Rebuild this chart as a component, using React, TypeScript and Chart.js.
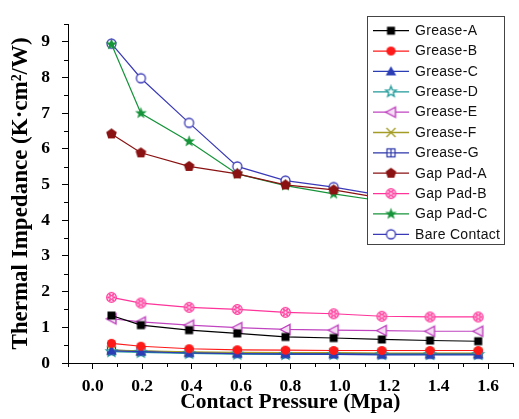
import React, { useEffect, useRef } from 'react';
import { Chart, registerables } from 'chart.js';

Chart.register(...registerables);

// ---- data ----
const X_VALUES = [0.076, 0.195, 0.39, 0.585, 0.78, 0.975, 1.17, 1.365, 1.56];
const X_TICKS = [0.0, 0.2, 0.4, 0.6, 0.8, 1.0, 1.2, 1.4, 1.6];
const Y_TICKS = [0, 1, 2, 3, 4, 5, 6, 7, 8, 9];
const X_MINOR = [-0.1, 0.1, 0.3, 0.5, 0.7, 0.9, 1.1, 1.3, 1.5, 1.7];
const Y_MINOR = [0.5, 1.5, 2.5, 3.5, 4.5, 5.5, 6.5, 7.5, 8.5, 9.5];

const SERIES_NAMES = [
  'Grease-A', 'Grease-B', 'Grease-C', 'Grease-D', 'Grease-E', 'Grease-F',
  'Grease-G', 'Gap Pad-A', 'Gap Pad-B', 'Gap Pad-C', 'Bare Contact',
];

const GREASE_A = [1.33, 1.06, 0.92, 0.83, 0.73, 0.70, 0.66, 0.63, 0.61];
const GREASE_B = [0.55, 0.47, 0.40, 0.37, 0.36, 0.35, 0.35, 0.35, 0.35];
const GREASE_C = [0.34, 0.32, 0.28, 0.26, 0.25, 0.24, 0.23, 0.23, 0.23];
const GREASE_D = [0.32, 0.30, 0.27, 0.25, 0.24, 0.24, 0.24, 0.24, 0.24];
const GREASE_E = [1.24, 1.15, 1.06, 0.99, 0.94, 0.92, 0.91, 0.89, 0.89];
const GREASE_F = [0.36, 0.34, 0.31, 0.30, 0.29, 0.29, 0.28, 0.28, 0.28];
const GREASE_G = [0.36, 0.33, 0.30, 0.28, 0.27, 0.27, 0.26, 0.26, 0.26];
const GAP_PAD_A = [6.42, 5.89, 5.51, 5.30, 4.99, 4.85, 4.62, 4.50, 4.45];
const GAP_PAD_B = [1.84, 1.68, 1.56, 1.50, 1.42, 1.38, 1.31, 1.29, 1.29];
const GAP_PAD_C = [8.93, 7.00, 6.21, 5.30, 4.97, 4.74, 4.54, 4.45, 4.40];
const BARE_CONTACT = [8.95, 7.98, 6.73, 5.51, 5.11, 4.93, 4.70, 4.60, 4.55];

const SERIES_VALUES = [
  GREASE_A, GREASE_B, GREASE_C, GREASE_D, GREASE_E, GREASE_F,
  GREASE_G, GAP_PAD_A, GAP_PAD_B, GAP_PAD_C, BARE_CONTACT,
];

const COLORS = [
  '#000000', '#ff1a1a', '#2a3db5', '#1f9a9a', '#c044c0', '#a49c24',
  '#2a35a8', '#8a1212', '#ff3399', '#16943a', '#3a3ab8',
];

// ---- marker drawing ----
type Ctx = CanvasRenderingContext2D;
function makeMarker(draw: (ctx: Ctx) => void, size = 15): HTMLCanvasElement {
  const c = document.createElement('canvas');
  c.width = size;
  c.height = size;
  const ctx = c.getContext('2d') as Ctx;
  ctx.translate(size / 2, size / 2);
  draw(ctx);
  return c;
}
function starPath(ctx: Ctx, outer: number, inner: number) {
  ctx.beginPath();
  for (let i = 0; i < 10; i++) {
    const r = i % 2 ? inner : outer;
    const a = -Math.PI / 2 + (i * Math.PI) / 5;
    ctx.lineTo(r * Math.cos(a), r * Math.sin(a));
  }
  ctx.closePath();
}
function polyPath(ctx: Ctx, r: number, n: number) {
  ctx.beginPath();
  for (let i = 0; i < n; i++) {
    const a = -Math.PI / 2 + (i * 2 * Math.PI) / n;
    ctx.lineTo(r * Math.cos(a), r * Math.sin(a));
  }
  ctx.closePath();
}

function buildMarkers(): HTMLCanvasElement[] {
  return [
    makeMarker((ctx) => { ctx.fillStyle = COLORS[0]; ctx.fillRect(-4, -4, 8, 8); }),
    makeMarker((ctx) => { ctx.fillStyle = COLORS[1]; ctx.beginPath(); ctx.arc(0, 0, 4.6, 0, Math.PI * 2); ctx.fill(); }),
    makeMarker((ctx) => {
      ctx.fillStyle = COLORS[2];
      ctx.beginPath(); ctx.moveTo(0, -5.2); ctx.lineTo(5.2, 4); ctx.lineTo(-5.2, 4); ctx.closePath(); ctx.fill();
    }),
    makeMarker((ctx) => {
      ctx.strokeStyle = COLORS[3]; ctx.lineWidth = 1.3; ctx.fillStyle = '#ffffff';
      starPath(ctx, 5.6, 2.4); ctx.fill(); ctx.stroke();
    }),
    makeMarker((ctx) => {
      ctx.strokeStyle = COLORS[4]; ctx.lineWidth = 1.4; ctx.fillStyle = '#f4dff4';
      ctx.beginPath(); ctx.moveTo(-5.2, 0); ctx.lineTo(4.5, -5.2); ctx.lineTo(4.5, 5.2); ctx.closePath(); ctx.fill(); ctx.stroke();
    }),
    makeMarker((ctx) => {
      ctx.strokeStyle = COLORS[5]; ctx.lineWidth = 1.4;
      ctx.beginPath(); ctx.moveTo(-4.5, -4.5); ctx.lineTo(4.5, 4.5); ctx.moveTo(-4.5, 4.5); ctx.lineTo(4.5, -4.5); ctx.stroke();
    }),
    makeMarker((ctx) => {
      ctx.strokeStyle = COLORS[6]; ctx.lineWidth = 1.2; ctx.fillStyle = '#ffffff';
      ctx.fillRect(-4, -4, 8, 8); ctx.strokeRect(-4, -4, 8, 8);
      ctx.beginPath(); ctx.moveTo(-4, 0); ctx.lineTo(4, 0); ctx.moveTo(0, -4); ctx.lineTo(0, 4); ctx.stroke();
    }),
    makeMarker((ctx) => { ctx.fillStyle = COLORS[7]; polyPath(ctx, 5.6, 5); ctx.fill(); }),
    makeMarker((ctx) => {
      ctx.strokeStyle = COLORS[8]; ctx.lineWidth = 1.2; ctx.fillStyle = '#ffe0f0';
      ctx.beginPath(); ctx.arc(0, 0, 4.8, 0, Math.PI * 2); ctx.fill(); ctx.stroke();
      ctx.beginPath(); ctx.arc(0, 0, 1.8, 0, Math.PI * 2); ctx.stroke();
      for (let i = 0; i < 6; i++) {
        const a = (i * Math.PI) / 3;
        ctx.beginPath(); ctx.arc(3.2 * Math.cos(a), 3.2 * Math.sin(a), 0.9, 0, Math.PI * 2); ctx.fillStyle = COLORS[8]; ctx.fill();
      }
    }),
    makeMarker((ctx) => { ctx.fillStyle = COLORS[9]; starPath(ctx, 6.2, 2.6); ctx.fill(); }),
    makeMarker((ctx) => {
      ctx.strokeStyle = COLORS[10]; ctx.lineWidth = 1.3; ctx.fillStyle = '#ffffff';
      ctx.beginPath(); ctx.arc(0, 0, 4.5, 0, Math.PI * 2); ctx.fill(); ctx.stroke();
    }),
  ];
}

// ---- plugins ----
const minorTicksPlugin = {
  id: 'minorTicks',
  beforeDatasetsDraw(chart: any) {
    const { ctx, scales } = chart;
    const xs = scales.x;
    const ys = scales.y;
    ctx.save();
    ctx.strokeStyle = '#000';
    ctx.lineWidth = 1;
    ctx.beginPath();
    X_MINOR.forEach((v) => {
      const px = Math.round(xs.getPixelForValue(v)) + 0.5;
      ctx.moveTo(px, ys.bottom);
      ctx.lineTo(px, ys.bottom + 4);
    });
    Y_MINOR.forEach((v) => {
      const py = Math.round(ys.getPixelForValue(v)) + 0.5;
      ctx.moveTo(xs.left, py);
      ctx.lineTo(xs.left - 4, py);
    });
    ctx.stroke();
    ctx.restore();
  },
};

const boxLegendPlugin = {
  id: 'boxLegend',
  afterDatasetsDraw(chart: any) {
    const ctx = chart.ctx as Ctx;
    const left = 367.5;
    const top = 16.5;
    const w = 137;
    const h = 228;
    ctx.save();
    ctx.fillStyle = '#ffffff';
    ctx.fillRect(left, top, w, h);
    ctx.strokeStyle = '#444444';
    ctx.lineWidth = 1;
    ctx.strokeRect(left, top, w, h);
    chart.data.datasets.forEach((ds: any, i: number) => {
      const y = 30.7 + i * 20.36;
      ctx.strokeStyle = ds.borderColor;
      ctx.lineWidth = 1.3;
      ctx.beginPath();
      ctx.moveTo(373, y);
      ctx.lineTo(409, y);
      ctx.stroke();
      const img = ds.pointStyle as HTMLCanvasElement;
      ctx.drawImage(img, 391 - img.width / 2, y - img.height / 2);
      ctx.fillStyle = '#111111';
      ctx.font = '14px "Liberation Sans", Arial, sans-serif';
      (ctx as any).letterSpacing = '0.3px';
      ctx.textBaseline = 'middle';
      ctx.textAlign = 'left';
      ctx.fillText(ds.label, 415, y + 0.5);
    });
    ctx.restore();
  },
};

const SERIF = '"Liberation Serif", "Times New Roman", serif';

export default function App() {
  const canvasRef = useRef<HTMLCanvasElement | null>(null);

  useEffect(() => {
    document.body.style.margin = '0';
    const canvas = canvasRef.current;
    if (!canvas) return;
    const markers = buildMarkers();
    const datasets = SERIES_NAMES.map((name, i) => ({
      label: name,
      data: X_VALUES.map((x, j) => ({ x, y: SERIES_VALUES[i][j] })),
      borderColor: COLORS[i],
      backgroundColor: COLORS[i],
      borderWidth: 1.2,
      pointStyle: markers[i],
      pointRadius: 5,
      fill: false,
      tension: 0,
    }));

    const chart = new Chart(canvas, {
      type: 'line',
      data: { datasets },
      plugins: [minorTicksPlugin, boxLegendPlugin],
      options: {
        animation: false,
        responsive: false,
        events: [],
        layout: { padding: { top: 24, right: 0, left: 0, bottom: 0 } },
        plugins: {
          legend: { display: false },
          tooltip: { enabled: false },
        },
        scales: {
          x: {
            type: 'linear',
            min: -0.1,
            max: 1.7,
            afterBuildTicks: (axis: any) => {
              axis.ticks = X_TICKS.map((v) => ({ value: v }));
            },
            afterFit: (axis: any) => {
              axis.height = 56;
            },
            border: { display: true, color: '#000', width: 1 },
            grid: { display: true, drawOnChartArea: false, drawTicks: true, tickLength: 6, color: '#000' },
            ticks: {
              autoSkip: false,
              maxRotation: 0,
              padding: 7,
              color: '#000',
              font: { family: SERIF, size: 17.5, weight: 'bold' },
              callback: (v: any) => Number(v).toFixed(1),
            },
            title: {
              display: true,
              text: 'Contact Pressure (Mpa)',
              color: '#000',
              font: { family: SERIF, size: 21.5, weight: 'bold' },
              padding: { top: 0, bottom: 4 },
            },
          },
          y: {
            type: 'linear',
            min: 0,
            max: 9.5,
            afterBuildTicks: (axis: any) => {
              axis.ticks = Y_TICKS.map((v) => ({ value: v }));
            },
            afterFit: (axis: any) => {
              axis.width = 68;
            },
            border: { display: true, color: '#000', width: 1 },
            grid: { display: true, drawOnChartArea: false, drawTicks: true, tickLength: 6, color: '#000' },
            ticks: {
              autoSkip: false,
              padding: 12,
              color: '#000',
              font: { family: SERIF, size: 17.5, weight: 'bold' },
              callback: (v: any) => String(v),
            },
            title: {
              display: true,
              text: 'Thermal Impedance (K·cm²/W)',
              color: '#000',
              font: { family: SERIF, size: 23, weight: 'bold' },
              padding: { top: 7, bottom: 0 },
            },
          },
        },
      } as any,
    });
    return () => chart.destroy();
  }, []);

  return (
    <div style={{ width: 519, height: 419 }}>
      <canvas ref={canvasRef} width={519} height={419} />
    </div>
  );
}
